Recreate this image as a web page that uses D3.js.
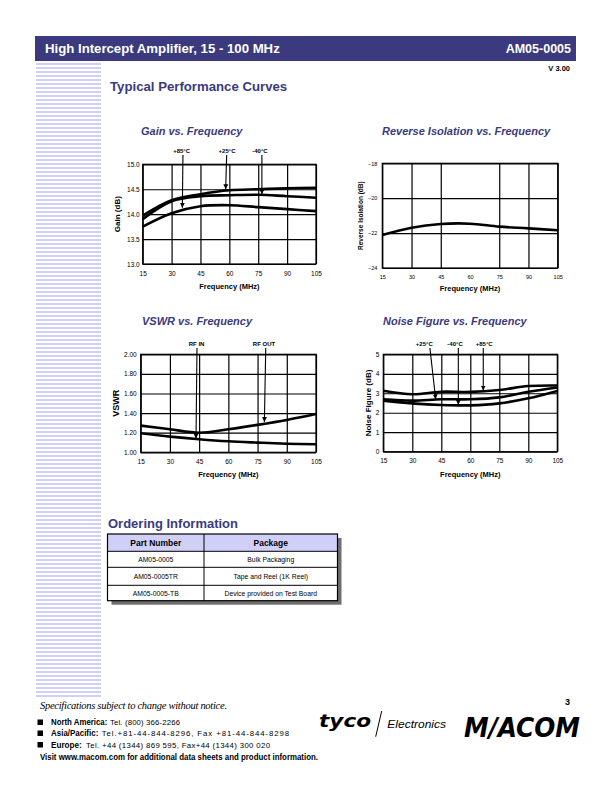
<!DOCTYPE html>
<html><head><meta charset="utf-8">
<script src="https://cdn.jsdelivr.net/npm/d3@7"></script>
<style>
html,body{margin:0;padding:0;background:#fff;}
svg{display:block;font-family:"Liberation Sans",Arial,sans-serif;}
</style></head>
<body>
<script>
// ---------- data ----------
const freq = [15, 30, 45, 60, 75, 90, 105];
const freqTicks = [15, 30, 45, 60, 75, 90, 105];

const gain25 = [13.97, 14.28, 14.40, 14.48, 14.50, 14.52, 14.53];
const gainM40 = [13.90, 14.26, 14.36, 14.38, 14.39, 14.36, 14.33];
const gain85 = [13.75, 14.02, 14.16, 14.18, 14.14, 14.10, 14.06];
const gainTicks = [13.0, 13.5, 14.0, 14.5, 15.0];

const revIso = [-22.11, -21.69, -21.48, -21.46, -21.63, -21.73, -21.84];
const revTicks = [-24, -22, -20, -18];

const vswrOut = [1.272, 1.235, 1.20, 1.235, 1.28, 1.33, 1.39];
const vswrIn = [1.194, 1.16, 1.133, 1.112, 1.099, 1.088, 1.082];
const vswrTicks = [1.00, 1.20, 1.40, 1.60, 1.80, 2.00];

const nf85 = [3.13, 2.95, 3.08, 3.07, 3.17, 3.37, 3.40];
const nf25 = [2.69, 2.62, 2.69, 2.69, 2.79, 3.08, 3.30];
const nfM40 = [2.62, 2.48, 2.40, 2.38, 2.48, 2.74, 3.12];
const nfTicks = [0, 1, 2, 3, 4, 5];

// annotations: [label, labelFreq, arrowTopFreq, tipFreq, tipValue]
const gainNotes = [["+85\u00B0C", 35.2, 35.9, 35.6, 14.13], ["+25\u00B0C", 58.8, 58.6, 58.1, 14.50], ["-40\u00B0C", 75.9, 76.9, 76.9, 14.40]];
const vswrNotes = [["RF IN", 43.7, 43.9, 43.4, 1.14], ["RF OUT", 78.3, 79.2, 78.5, 1.31]];
const nfNotes = [["+25\u00B0C", 36.2, 39.1, 42.1, 2.69], ["-40\u00B0C", 52.1, 53.8, 53.8, 2.41], ["+85\u00B0C", 67.2, 66.7, 66.7, 3.14]];

const orderHeader = ["Part Number", "Package"];
const orderParts = ["AM05-0005", "AM05-0005TR", "AM05-0005-TB"];
const orderPackages = ["Bulk Packaging", "Tape and Reel (1K Reel)", "Device provided on Test Board"];

// ---------- page ----------
const NAVY = "#3b3a7e";
const svg = d3.select("body").append("svg").attr("width", 612).attr("height", 792);

svg.append("defs").append("marker").attr("id", "ah")
  .attr("viewBox", "0 0 10 10").attr("refX", 10).attr("refY", 5)
  .attr("markerWidth", 5).attr("markerHeight", 6).attr("markerUnits", "userSpaceOnUse")
  .attr("orient", "auto")
  .append("path").attr("d", "M0,0 L10,5 L0,10 z").attr("fill", "#000");

// header
svg.append("rect").attr("x", 35).attr("y", 36).attr("width", 541).attr("height", 25).attr("fill", NAVY);
svg.append("text").attr("x", 45).attr("y", 53).attr("fill", "#fff").attr("font-weight", "bold").attr("font-size", 13.2)
  .text("High Intercept Amplifier, 15 - 100 MHz");
svg.append("text").attr("x", 571).attr("y", 53).attr("fill", "#fff").attr("font-weight", "bold").attr("font-size", 12.5)
  .attr("text-anchor", "end").text("AM05-0005");
svg.append("text").attr("x", 570).attr("y", 71).attr("font-weight", "bold").attr("font-size", 7.5)
  .attr("text-anchor", "end").text("V 3.00");

// left stripes
const stripeYs = d3.range(63, 696, 4);
svg.append("g").selectAll("rect").data(stripeYs).join("rect")
  .attr("x", 36).attr("y", d => d).attr("width", 65).attr("height", 2).attr("fill", "#cfcff7");

svg.append("text").attr("x", 110).attr("y", 91).attr("fill", NAVY).attr("font-weight", "bold").attr("font-size", 13.2)
  .text("Typical Performance Curves");

// ---------- chart helper ----------
function chart(o) {
  const g = svg.append("g");
  const x = d3.scaleLinear().domain([15, 105]).range([o.x0, o.x1]);
  const y = d3.scaleLinear().domain(o.yDomain).range([o.y1, o.y0]);
  const h = o.y1 - o.y0, w = o.x1 - o.x0;

  g.append("text").attr("x", o.titleX).attr("y", o.titleY).attr("fill", NAVY)
    .attr("font-weight", "bold").attr("font-style", "italic").attr("font-size", 11).text(o.title);

  const xa = g.append("g").attr("transform", `translate(0,${o.y1})`)
    .call(d3.axisBottom(x).tickValues(freqTicks).tickSizeInner(-h).tickSizeOuter(0).tickPadding(o.xPad).tickFormat(d3.format("d")));
  xa.select(".domain").remove();
  xa.selectAll("line").attr("stroke", "#000").attr("stroke-width", 1.2)
    .attr("display", d => (o.skipX || []).includes(d) ? "none" : null);
  xa.selectAll("text").attr("font-size", o.tickFs).attr("font-family", "Liberation Sans, Arial, sans-serif").attr("fill", "#000");

  const ya = g.append("g").attr("transform", `translate(${o.x0},0)`)
    .call(d3.axisLeft(y).tickValues(o.yTicks).tickSizeInner(-w).tickSizeOuter(0).tickPadding(o.yPad).tickFormat(o.yFmt));
  ya.select(".domain").remove();
  ya.selectAll("line").attr("stroke", "#000").attr("stroke-width", 1.2);
  ya.selectAll("text").attr("font-size", o.yTickFs || o.tickFs).attr("font-family", "Liberation Sans, Arial, sans-serif").attr("fill", "#000");

  g.append("rect").attr("x", o.x0).attr("y", o.y0).attr("width", w).attr("height", h)
    .attr("fill", "none").attr("stroke", "#000").attr("stroke-width", 1.2);

  const line = d3.line().x((d, i) => x(freq[i])).y(d => y(d)).curve(d3.curveCatmullRom.alpha(0.5));
  o.series.forEach(s => {
    g.append("path").attr("d", line(s)).attr("fill", "none").attr("stroke", "#000").attr("stroke-width", 2.6);
  });

  g.append("text").attr("x", (o.x0 + o.x1) / 2).attr("y", o.xTitleY).attr("text-anchor", "middle")
    .attr("font-weight", "bold").attr("font-size", 7.5).text("Frequency (MHz)");
  g.append("text").attr("transform", `translate(${o.yTitleX},${(o.y0 + o.y1) / 2}) rotate(-90)`)
    .attr("text-anchor", "middle").attr("font-weight", "bold").attr("font-size", o.yTitleFs).text(o.yTitle);

  (o.notes || []).forEach(n => {
    g.append("text").attr("x", x(n[1])).attr("y", o.noteY).attr("text-anchor", "middle")
      .attr("font-weight", "bold").attr("font-size", 6).text(n[0]);
    g.append("line").attr("x1", x(n[2])).attr("y1", o.noteY + 2).attr("x2", x(n[3])).attr("y2", y(n[4]))
      .attr("stroke", "#000").attr("stroke-width", 1.1).attr("marker-end", "url(#ah)");
  });
}

chart({
  title: "Gain vs. Frequency", titleX: 141, titleY: 135,
  x0: 142.7, x1: 316, y0: 164.3, y1: 264,
  yDomain: [13, 15], yTicks: gainTicks, yFmt: d3.format(".1f"),
  series: [gain25, gainM40, gain85], tickFs: 6.5, xPad: 7, yPad: 3,
  xTitleY: 289, yTitle: "Gain (dB)", yTitleX: 120, yTitleFs: 8,
  notes: gainNotes, noteY: 153
});

chart({
  title: "Reverse Isolation vs. Frequency", titleX: 382, titleY: 135,
  x0: 382.3, x1: 557.7, y0: 163.3, y1: 268,
  yDomain: [-24, -18], yTicks: revTicks, yFmt: d3.format("d"), skipX: [60],
  series: [revIso], tickFs: 5.5, xPad: 7, yPad: 5,
  xTitleY: 291, yTitle: "Reverse Isolation (dB)", yTitleX: 363, yTitleFs: 6.5
});

chart({
  title: "VSWR vs. Frequency", titleX: 142, titleY: 325,
  x0: 140.7, x1: 316, y0: 354.3, y1: 452.3,
  yDomain: [1, 2], yTicks: vswrTicks, yFmt: d3.format(".2f"),
  series: [vswrOut, vswrIn], tickFs: 6.5, xPad: 7, yPad: 4,
  xTitleY: 476.5, yTitle: "VSWR", yTitleX: 119, yTitleFs: 9,
  notes: vswrNotes, noteY: 346
});

chart({
  title: "Noise Figure vs. Frequency", titleX: 383, titleY: 325,
  x0: 383.3, x1: 557.3, y0: 354.3, y1: 451.7,
  yDomain: [0, 5], yTicks: nfTicks, yFmt: d3.format("d"),
  series: [nf85, nf25, nfM40], tickFs: 6.5, xPad: 7, yPad: 4,
  xTitleY: 476.5, yTitle: "Noise Figure (dB)", yTitleX: 371, yTitleFs: 8,
  notes: nfNotes, noteY: 346
});

// ---------- ordering table ----------
svg.append("text").attr("x", 108).attr("y", 528).attr("fill", NAVY).attr("font-weight", "bold").attr("font-size", 13)
  .text("Ordering Information");
const tx0 = 107.5, tx1 = 337.5, tcol = 204;
const rowYs = [534, 551.3, 567.3, 585.3, 600.7];
svg.append("rect").attr("x", tx0 + 4).attr("y", rowYs[0] + 4).attr("width", tx1 - tx0).attr("height", rowYs[4] - rowYs[0]).attr("fill", "#6e6e6e");
svg.append("rect").attr("x", tx0).attr("y", rowYs[0]).attr("width", tx1 - tx0).attr("height", rowYs[4] - rowYs[0]).attr("fill", "#fff");
svg.append("rect").attr("x", tx0).attr("y", rowYs[0]).attr("width", tx1 - tx0).attr("height", rowYs[1] - rowYs[0]).attr("fill", "#cfcff7");
svg.append("g").selectAll("line").data(rowYs.slice(1, 4)).join("line")
  .attr("x1", tx0).attr("x2", tx1).attr("y1", d => d).attr("y2", d => d).attr("stroke", "#000").attr("stroke-width", 1);
svg.append("line").attr("x1", tcol).attr("x2", tcol).attr("y1", rowYs[0]).attr("y2", rowYs[4]).attr("stroke", "#000").attr("stroke-width", 1);
svg.append("rect").attr("x", tx0).attr("y", rowYs[0]).attr("width", tx1 - tx0).attr("height", rowYs[4] - rowYs[0])
  .attr("fill", "none").attr("stroke", "#000").attr("stroke-width", 1.2);
svg.append("text").attr("x", (tx0 + tcol) / 2).attr("y", 545.5).attr("text-anchor", "middle").attr("font-weight", "bold").attr("font-size", 8.5).text(orderHeader[0]);
svg.append("text").attr("x", (tcol + tx1) / 2).attr("y", 545.5).attr("text-anchor", "middle").attr("font-weight", "bold").attr("font-size", 8.5).text(orderHeader[1]);
orderParts.forEach((p, i) => {
  const cy = (rowYs[i + 1] + rowYs[i + 2]) / 2 + 2.5;
  svg.append("text").attr("x", (tx0 + tcol) / 2).attr("y", cy).attr("text-anchor", "middle").attr("font-size", 6.8).text(p);
  svg.append("text").attr("x", (tcol + tx1) / 2).attr("y", cy).attr("text-anchor", "middle").attr("font-size", 6.8).text(orderPackages[i]);
});

// ---------- footer ----------
svg.append("text").attr("x", 40).attr("y", 708.5).attr("font-family", "Liberation Serif, Times New Roman, serif")
  .attr("font-style", "italic").attr("font-size", 10.5).attr("textLength", 187).text("Specifications subject to change without notice.");
const contactLabels = ["North America:", "Asia/Pacific:", "Europe:"];
const contactValues = ["Tel. (800) 366-2266", "Tel.+81-44-844-8296,  Fax +81-44-844-8298", "Tel. +44 (1344) 869 595,  Fax+44 (1344) 300 020"];
const contactYs = [725, 736, 747.5];
const labelEnds = [107.3, 98.3, 81.7];
const valueStarts = [110, 101.7, 86];
const valueEnds = [180, 289, 270];
contactLabels.forEach((c, i) => {
  svg.append("rect").attr("x", 37.5).attr("y", contactYs[i] - 5.5).attr("width", 5.5).attr("height", 5.5).attr("fill", "#000");
  svg.append("text").attr("x", 51).attr("y", contactYs[i]).attr("font-weight", "bold").attr("font-size", 8.6)
    .attr("textLength", labelEnds[i] - 51).attr("lengthAdjust", "spacingAndGlyphs").text(c);
  svg.append("text").attr("x", valueStarts[i]).attr("y", contactYs[i]).attr("font-size", 7.8)
    .attr("textLength", valueEnds[i] - valueStarts[i]).text(contactValues[i]);
});
svg.append("text").attr("x", 40).attr("y", 759.5).attr("font-weight", "bold").attr("font-size", 8.6)
  .attr("textLength", 278).attr("lengthAdjust", "spacingAndGlyphs").text("Visit www.macom.com for additional data sheets and product information.");

svg.append("text").attr("x", 570).attr("y", 705).attr("text-anchor", "end").attr("font-weight", "bold").attr("font-size", 9).text("3");
svg.append("text").attr("x", 319).attr("y", 727).attr("font-weight", "900").attr("font-style", "italic").attr("font-size", 17)
  .attr("font-family", "DejaVu Sans, sans-serif").attr("textLength", 52).attr("lengthAdjust", "spacingAndGlyphs").text("tyco");
svg.append("line").attr("x1", 375.7).attr("y1", 736.7).attr("x2", 381.7).attr("y2", 711).attr("stroke", "#000").attr("stroke-width", 1);
svg.append("text").attr("x", 387.3).attr("y", 727.7).attr("font-style", "italic").attr("font-size", 10.5).attr("textLength", 58.7)
  .attr("lengthAdjust", "spacingAndGlyphs").text("Electronics");
svg.append("text").attr("x", 464).attr("y", 737).attr("font-weight", "bold").attr("font-style", "italic").attr("font-size", 26)
  .attr("font-family", "DejaVu Sans, sans-serif").attr("textLength", 116).attr("lengthAdjust", "spacingAndGlyphs").text("M/ACOM");
</script>
</body></html>
